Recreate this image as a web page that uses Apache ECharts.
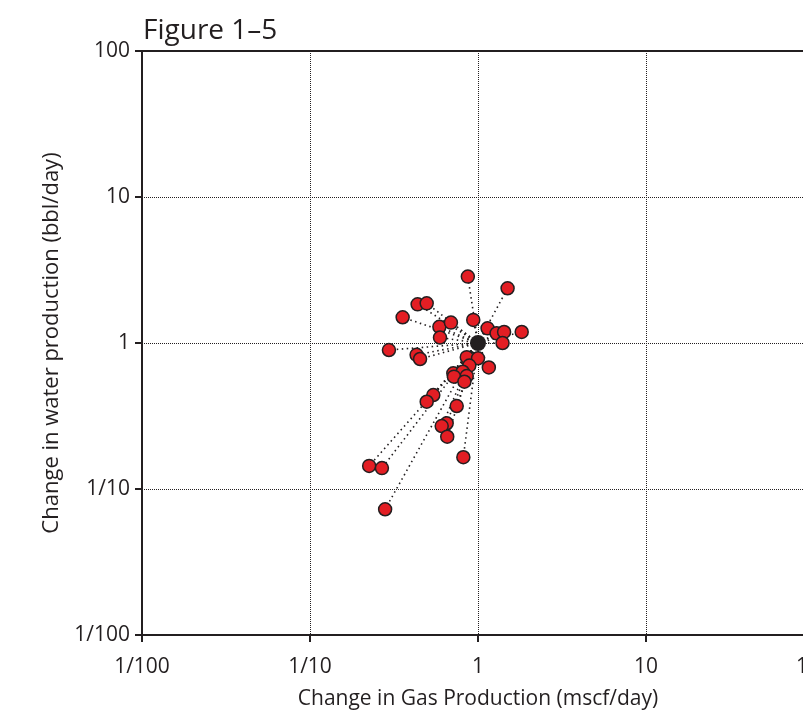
<!DOCTYPE html>
<html>
<head>
<meta charset="utf-8">
<script src="https://cdn.jsdelivr.net/npm/echarts@6/dist/echarts.min.js"></script>
<style>
  html, body { margin: 0; padding: 0; background: #fff; }
  #chart { width: 803px; height: 719px; }
</style>
</head>
<body>
<div id="chart"></div>
<script>
// change in gas production (x) and water production (y) for each well
const gasChange = [0.87, 1.50, 0.437, 0.495, 0.356, 0.589, 0.69, 0.594, 0.937, 1.14,
  1.29, 1.43, 1.82, 1.40, 0.295, 0.431, 0.452, 0.857, 1.0, 1.16,
  0.888, 0.713, 0.811, 0.857, 0.719, 0.83, 0.542, 0.495, 0.747, 0.651,
  0.608, 0.656, 0.818, 0.225, 0.268, 0.28]
const waterChange = [2.85, 2.37, 1.84, 1.87, 1.50, 1.29, 1.38, 1.09, 1.44, 1.26,
  1.165, 1.19, 1.19, 1.0, 0.895, 0.83, 0.777, 0.80, 0.786, 0.68,
  0.70, 0.62, 0.636, 0.594, 0.588, 0.543, 0.44, 0.396, 0.37, 0.282,
  0.27, 0.228, 0.165, 0.144, 0.139, 0.0726]
const origin = [1, 1]
const xTickLabels = ['1/100', '1/10', '1', '10', '100']
const yTickLabels = ['1/100', '1/10', '1', '10', '100']

const points = gasChange.map((g, i) => [g, waterChange[i]])
const fontFamily = '"Open Sans", "Noto Sans", sans-serif'

function decadeLabel(labels) {
  return function (value) {
    const idx = Math.round(Math.log10(value)) + 2
    return labels[idx] || ''
  }
}

const chart = echarts.init(document.getElementById('chart'))
chart.setOption({
  animation: false,
  title: {
    text: 'Figure 1–5',
    left: 138,
    top: 12,
    textStyle: { fontFamily: fontFamily, fontSize: 28, fontWeight: 'normal', color: '#231f20' }
  },
  grid: {
    left: 142,
    right: -11,
    top: 51,
    bottom: 84,
    outerBoundsMode: 'none',
    containLabel: false,
    show: true,
    borderColor: '#231f20',
    borderWidth: 2
  },
  xAxis: {
    type: 'log',
    logBase: 10,
    min: 0.01,
    max: 100,
    name: 'Change in Gas Production (mscf/day)',
    nameLocation: 'middle',
    nameGap: 54,
    nameTextStyle: { fontFamily: fontFamily, fontSize: 21, color: '#231f20' },
    axisLine: { lineStyle: { color: '#231f20', width: 2 } },
    axisTick: { show: true, length: 7, lineStyle: { color: '#231f20', width: 2 } },
    axisLabel: { formatter: decadeLabel(xTickLabels), margin: 22, fontFamily: fontFamily, fontSize: 21, color: '#231f20' },
    splitLine: { show: true, lineStyle: { type: 'dotted', color: '#231f20', width: 1 } },
    minorTick: { show: false }
  },
  yAxis: {
    type: 'log',
    logBase: 10,
    min: 0.01,
    max: 100,
    name: 'Change in water production (bbl/day)',
    nameLocation: 'middle',
    nameGap: 79,
    nameTextStyle: { fontFamily: fontFamily, fontSize: 22, color: '#231f20' },
    axisLine: { lineStyle: { color: '#231f20', width: 2 } },
    axisTick: { show: true, length: 7, lineStyle: { color: '#231f20', width: 2 } },
    axisLabel: { formatter: decadeLabel(yTickLabels), margin: 12, fontFamily: fontFamily, fontSize: 21, color: '#231f20' },
    splitLine: { show: true, lineStyle: { type: 'dotted', color: '#231f20', width: 1 } }
  },
  series: [
    {
      type: 'lines',
      coordinateSystem: 'cartesian2d',
      silent: true,
      z: 2,
      lineStyle: { type: [1.5, 3.5], color: '#231f20', width: 1.6, opacity: 1 },
      data: points.map(p => ({ coords: [origin, p] }))
    },
    {
      type: 'scatter',
      z: 3,
      symbolSize: 13,
      itemStyle: { color: '#e31e24', borderColor: '#231f20', borderWidth: 1.5, opacity: 1 },
      data: points
    },
    {
      type: 'scatter',
      z: 4,
      symbolSize: 16,
      itemStyle: { color: '#231f20', opacity: 1 },
      data: [origin]
    }
  ]
})
</script>
</body>
</html>
